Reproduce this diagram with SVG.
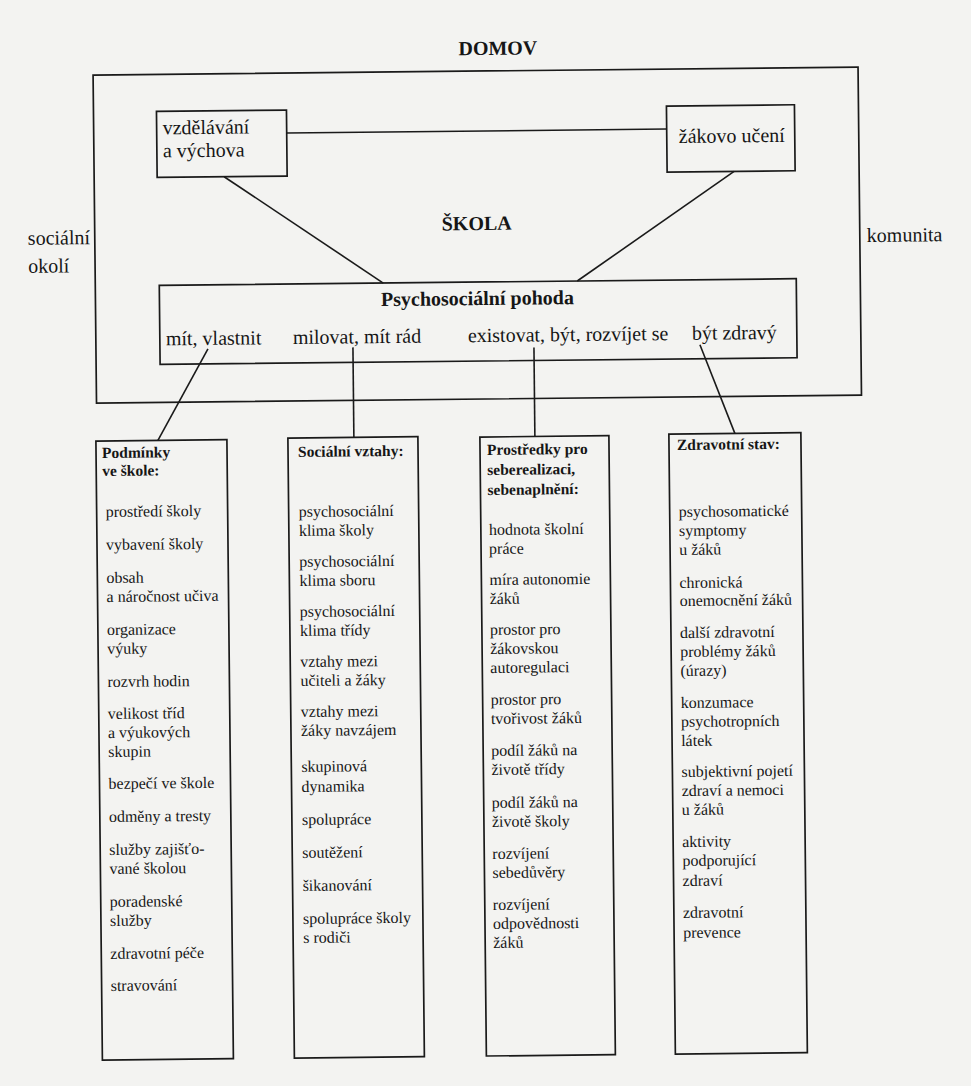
<svg xmlns="http://www.w3.org/2000/svg" width="971" height="1086" viewBox="0 0 971 1086">
<style>
.bx{fill:none;stroke:#1a1a1a;stroke-width:1.7}
.ln{fill:none;stroke:#1a1a1a;stroke-width:1.6}
text{font-family:'Liberation Serif','Times New Roman',serif;fill:#161616}
.t20{font-size:20px}
.b20{font-size:20px;font-weight:bold}
.it{font-size:16px}
.hd{font-size:15.5px;font-weight:bold}
</style>
<rect x="0" y="0" width="971" height="1086" fill="#f3f3f1"/>
<g transform="rotate(-0.6 485 543)">
<g id="domov">
<text class="b20" x="503" y="55" text-anchor="middle">DOMOV</text>
</g>
<g id="socialni-okoli">
<text class="t20" x="31" y="240">sociální</text>
<text class="t20" x="31" y="268">okolí</text>
</g>
<g id="komunita">
<text class="t20" x="870" y="246">komunita</text>
</g>
<g id="skola">
<rect class="bx" x="98" y="71" width="765" height="328"/>
<text class="b20" x="480" y="230" text-anchor="middle">ŠKOLA</text>
</g>
<g id="vzdelavani">
<rect class="bx" x="161" y="108" width="130" height="66"/>
<text class="t20" x="167" y="131">vzdělávání</text>
<text class="t20" x="167" y="154">a výchova</text>
</g>
<g id="zakovo-uceni">
<rect class="bx" x="671" y="108" width="128" height="66"/>
<text class="t20" x="683" y="145">žákovo učení</text>
</g>
<g id="pohoda">
<rect class="bx" x="162" y="282" width="637" height="79"/>
<text class="b20" x="480" y="305" text-anchor="middle">Psychosociální pohoda</text>
<text class="t20" x="168" y="342">mít, vlastnit</text>
<text class="t20" x="295" y="342">milovat, mít rád</text>
<text class="t20" x="470" y="342">existovat, být, rozvíjet se</text>
<text class="t20" x="694" y="342">být zdravý</text>
</g>
<g id="connectors">
<line class="ln" x1="291" y1="131" x2="671" y2="131"/>
<line class="ln" x1="228" y1="174" x2="386" y2="282"/>
<line class="ln" x1="738" y1="174" x2="580" y2="282"/>
<line class="ln" x1="210" y1="346" x2="159" y2="437"/>
<line class="ln" x1="355" y1="346" x2="355" y2="436"/>
<line class="ln" x1="536" y1="348" x2="536" y2="437"/>
<line class="ln" x1="702" y1="347" x2="736" y2="436"/>
</g>
<g id="podminky">
<rect class="bx" x="97" y="437" width="131" height="619"/>
<text class="hd" x="103" y="454">Podmínky</text>
<text class="hd" x="103" y="472">ve škole:</text>
<text class="it" x="106" y="513">prostředí školy</text>
<text class="it" x="106" y="546">vybavení školy</text>
<text class="it" x="106" y="579">obsah</text>
<text class="it" x="106" y="598">a náročnost učiva</text>
<text class="it" x="106" y="631">organizace</text>
<text class="it" x="106" y="650">výuky</text>
<text class="it" x="106" y="683">rozvrh hodin</text>
<text class="it" x="106" y="715">velikost tříd</text>
<text class="it" x="106" y="734">a výukových</text>
<text class="it" x="106" y="753">skupin</text>
<text class="it" x="106" y="785">bezpečí ve škole</text>
<text class="it" x="106" y="818">odměny a tresty</text>
<text class="it" x="106" y="851">služby zajišťo-</text>
<text class="it" x="106" y="870">vané školou</text>
<text class="it" x="106" y="903">poradenské</text>
<text class="it" x="106" y="922">služby</text>
<text class="it" x="106" y="955">zdravotní péče</text>
<text class="it" x="106" y="987">stravování</text>
</g>
<g id="socialni-vztahy">
<rect class="bx" x="289" y="436" width="130" height="620"/>
<text class="hd" x="299" y="455">Sociální vztahy:</text>
<text class="it" x="299" y="515">psychosociální</text>
<text class="it" x="299" y="534">klima školy</text>
<text class="it" x="299" y="565">psychosociální</text>
<text class="it" x="299" y="584">klima sboru</text>
<text class="it" x="299" y="615">psychosociální</text>
<text class="it" x="299" y="634">klima třídy</text>
<text class="it" x="299" y="665">vztahy mezi</text>
<text class="it" x="299" y="684">učiteli a žáky</text>
<text class="it" x="299" y="715">vztahy mezi</text>
<text class="it" x="299" y="734">žáky navzájem</text>
<text class="it" x="299" y="770">skupinová</text>
<text class="it" x="299" y="790">dynamika</text>
<text class="it" x="299" y="823">spolupráce</text>
<text class="it" x="299" y="856">soutěžení</text>
<text class="it" x="299" y="889">šikanování</text>
<text class="it" x="299" y="922">spolupráce školy</text>
<text class="it" x="299" y="941">s rodiči</text>
</g>
<g id="prostredky">
<rect class="bx" x="481" y="437" width="129" height="619"/>
<text class="hd" x="488" y="455">Prostředky pro</text>
<text class="hd" x="488" y="475">seberealizaci,</text>
<text class="hd" x="488" y="495">sebenaplnění:</text>
<text class="it" x="489" y="535">hodnota školní</text>
<text class="it" x="489" y="554">práce</text>
<text class="it" x="489" y="585">míra autonomie</text>
<text class="it" x="489" y="604">žáků</text>
<text class="it" x="489" y="635">prostor pro</text>
<text class="it" x="489" y="654">žákovskou</text>
<text class="it" x="489" y="673">autoregulaci</text>
<text class="it" x="489" y="705">prostor pro</text>
<text class="it" x="489" y="724">tvořivost žáků</text>
<text class="it" x="489" y="756">podíl žáků na</text>
<text class="it" x="489" y="775">životě třídy</text>
<text class="it" x="489" y="808">podíl žáků na</text>
<text class="it" x="489" y="827">životě školy</text>
<text class="it" x="489" y="859">rozvíjení</text>
<text class="it" x="489" y="878">sebedůvěry</text>
<text class="it" x="489" y="910">rozvíjení</text>
<text class="it" x="489" y="929">odpovědnosti</text>
<text class="it" x="489" y="948">žáků</text>
</g>
<g id="zdravotni-stav">
<rect class="bx" x="670" y="436" width="132" height="620"/>
<text class="hd" x="678" y="452">Zdravotní stav:</text>
<text class="it" x="679" y="519">psychosomatické</text>
<text class="it" x="679" y="538">symptomy</text>
<text class="it" x="679" y="557">u žáků</text>
<text class="it" x="679" y="590">chronická</text>
<text class="it" x="679" y="608">onemocnění žáků</text>
<text class="it" x="679" y="640">další zdravotní</text>
<text class="it" x="679" y="659">problémy žáků</text>
<text class="it" x="679" y="678">(úrazy)</text>
<text class="it" x="679" y="710">konzumace</text>
<text class="it" x="679" y="729">psychotropních</text>
<text class="it" x="679" y="748">látek</text>
<text class="it" x="679" y="779">subjektivní pojetí</text>
<text class="it" x="679" y="798">zdraví a nemoci</text>
<text class="it" x="679" y="817">u žáků</text>
<text class="it" x="679" y="849">aktivity</text>
<text class="it" x="679" y="868">podporující</text>
<text class="it" x="679" y="888">zdraví</text>
<text class="it" x="679" y="920">zdravotní</text>
<text class="it" x="679" y="940">prevence</text>
</g>
</g>
</svg>
